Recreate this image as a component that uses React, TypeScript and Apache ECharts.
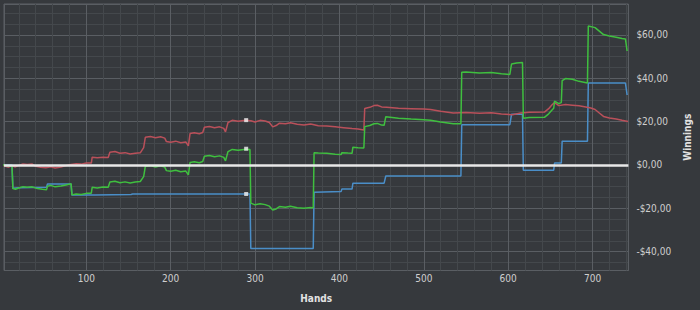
import React, { useEffect, useRef } from "react";
import * as echarts from "echarts";

// [hand, winnings]
const redLine: [number, number][] = [
  [1, 0], [4, -0.6], [8, -1.0], [12, -0.4], [16, -0.9], [20, -0.2], [25, 0.5], [30, 0.2], [36, 0.4],
  [40, -0.6], [46, -1.0], [52, -1.3], [58, -0.8], [63, -1.4], [70, -0.9], [76, -0.3], [82, 0.2],
  [88, 0.6], [94, 0.4], [100, 0.9], [106, 0.9], [107, 3.6], [113, 3.3], [120, 3.6], [126, 3.5],
  [128, 5.9], [134, 6.2], [140, 5.4], [146, 5.7], [152, 5.1], [158, 5.4], [164, 5.6], [168, 8.0],
  [170, 12.8], [176, 13.1], [182, 12.6], [188, 13.0], [193, 12.4], [195, 10.8], [200, 10.5],
  [206, 11.0], [212, 10.3], [218, 10.6], [221, 8.8], [223, 14.5], [228, 14.9], [234, 14.4],
  [238, 15.0], [240, 17.4], [246, 17.8], [252, 17.2], [258, 17.6], [263, 16.9], [265, 15.3],
  [268, 19.6], [273, 20.6], [280, 20.2], [289, 20.7], [295, 20.4], [300, 19.8], [306, 20.6],
  [312, 20.3], [317, 19.6], [321, 17.6], [325, 18.2], [329, 19.3], [336, 19.0], [342, 19.5],
  [350, 18.8], [358, 18.5], [366, 18.9], [375, 18.1], [385, 18.0], [395, 17.6], [405, 17.2],
  [415, 16.8], [422, 16.6], [429, 16.2], [430, 26.1], [436, 26.6], [441, 27.4], [445, 27.6],
  [450, 26.8], [456, 26.7], [470, 26.2], [485, 26.0], [500, 25.8], [508, 25.6], [520, 24.8],
  [535, 24.0], [550, 24.2], [566, 23.9], [580, 24.1], [592, 23.5], [605, 23.2], [615, 24.0],
  [625, 24.3], [643, 24.4], [648, 26.0], [652, 27.8], [655, 28.8], [660, 27.4], [668, 27.9],
  [676, 27.6], [684, 27.3], [692, 26.8], [698, 26.3], [703, 25.6], [708, 24.0], [713, 22.4],
  [720, 21.7], [728, 21.2], [735, 20.6], [742, 20.1],
];

const blueLine: [number, number][] = [
  [1, 0], [12, 0], [13, -10.7], [20, -10.5], [35, -10.4], [53, -10.3], [54, -8.8], [82, -8.8],
  [83, -13.9], [110, -13.8], [153, -13.6], [155, -13.4], [294, -13.4], [295, -38.5], [369, -38.5],
  [370, -12.6], [402, -12.2], [403, -11.1], [415, -11.1], [416, -8.4], [453, -8.4], [455, -5.1],
  [544, -5.1], [545, 18.6], [602, 18.6], [604, 23.4], [617, 23.4], [618, -2.4], [654, -2.4],
  [655, 0.9], [663, 0.9], [664, 11.0], [694, 11.0], [695, 37.8], [739, 37.8], [741, 32.3],
];

const greenLine: [number, number][] = [
  [1, 0], [8, -0.5], [12, -0.4], [13, -10.9], [16, -11.2], [20, -10.6], [25, -10.0], [30, -10.3],
  [36, -10.1], [42, -10.9], [48, -11.2], [53, -11.4], [54, -9.8], [58, -9.4], [63, -10.1],
  [70, -9.7], [76, -9.2], [82, -8.7], [83, -13.8], [88, -13.4], [94, -13.6], [100, -13.1],
  [106, -13.0], [107, -10.3], [113, -10.6], [120, -10.2], [126, -10.3], [128, -7.9], [134, -7.5],
  [140, -8.2], [146, -7.8], [152, -8.3], [158, -7.9], [164, -7.6], [168, -5.4], [170, -0.6],
  [176, -0.3], [182, -0.9], [188, -0.4], [193, -1.0], [195, -2.6], [200, -2.9], [206, -2.4],
  [212, -3.1], [218, -2.8], [221, -4.6], [223, 1.1], [228, 1.5], [234, 1.0], [238, 1.6],
  [240, 4.0], [246, 4.4], [252, 3.8], [258, 4.2], [263, 3.5], [265, 1.9], [268, 6.2], [273, 7.2],
  [280, 6.8], [289, 7.3], [294, 7.1], [295, -17.6], [300, -18.4], [306, -17.9], [312, -18.3],
  [317, -19.0], [321, -20.8], [325, -20.3], [329, -19.2], [336, -19.5], [342, -19.0],
  [350, -19.7], [358, -20.0], [366, -19.6], [369, -19.8], [370, 5.6], [375, 5.5], [385, 5.4],
  [395, 5.0], [402, 4.8], [403, 5.7], [410, 5.5], [415, 5.4], [416, 8.2], [422, 8.0], [429, 7.8],
  [430, 17.7], [436, 18.2], [441, 19.0], [445, 19.2], [450, 18.4], [453, 18.3], [455, 22.3],
  [470, 21.6], [485, 21.2], [500, 20.9], [508, 20.6], [520, 19.8], [535, 19.0], [544, 19.0],
  [545, 42.8], [550, 42.9], [566, 42.5], [580, 42.7], [592, 42.1], [602, 41.8], [604, 46.6],
  [610, 47.1], [617, 47.3], [618, 21.6], [625, 21.9], [643, 22.0], [648, 23.6], [652, 25.4],
  [654, 26.2], [655, 29.5], [660, 28.3], [663, 28.8], [664, 38.9], [668, 39.9], [676, 39.6],
  [684, 38.6], [694, 37.8], [695, 64.1], [703, 63.4], [708, 61.8], [713, 60.2], [720, 59.5],
  [728, 59.0], [735, 58.4], [739, 58.2], [741, 52.6],
];

const hoverPoints: [number, number][] = [
  [289.5, 20.7], [289.5, 7.5], [289.5, -13.4],
];

const xName = "Hands";
const yName = "Winnings";

const fmtMoney = (v: number) =>
  (v < 0 ? "-$" : "$") + Math.abs(v).toFixed(2).replace(".", ",");

export default function App() {
  const ref = useRef<HTMLDivElement>(null);
  useEffect(() => {
    document.body.style.margin = "0";
    document.body.style.background = "#36393d";
    const chart = echarts.init(ref.current!, undefined, { renderer: "svg" });
    const font = "'Liberation Sans Narrow', 'DejaVu Sans Condensed', Roboto, sans-serif";
    chart.setOption({
      animation: false,
      backgroundColor: "#36393d",
      grid: { left: 4, right: 62, top: 4, bottom: 39.5, show: true, borderColor: "#5d6166", borderWidth: 1, backgroundColor: "transparent" },
      xAxis: {
        type: "value",
        min: 2.5,
        max: 742.5,
        splitNumber: 7,
        name: xName,
        nameLocation: "middle",
        nameGap: 23,
        nameTextStyle: { color: "#e2e2e2", fontWeight: "bold", fontSize: 10, fontFamily: font },
        axisLine: { show: false },
        axisTick: { show: false },
        axisLabel: { color: "#cfcfcf", fontSize: 10, fontFamily: font, margin: 3, showMinLabel: false, showMaxLabel: false },
        splitLine: { show: true, lineStyle: { color: "#5a5e63", width: 1 } },
        minorTick: { show: false, splitNumber: 5 },
        minorSplitLine: { show: true, lineStyle: { color: "#44484c", width: 1 } },
      },
      yAxis: {
        type: "value",
        position: "right",
        min: -48.7,
        max: 74.3,
        splitNumber: 5,
        name: yName,
        nameLocation: "middle",
        nameRotate: 90,
        nameGap: 44,
        nameTextStyle: { color: "#e2e2e2", fontWeight: "bold", fontSize: 10, fontFamily: font },
        axisLine: { show: false },
        axisTick: { show: false },
        axisLabel: { color: "#cfcfcf", fontSize: 10, fontFamily: font, margin: 8, formatter: fmtMoney, showMinLabel: false, showMaxLabel: false },
        splitLine: { show: true, lineStyle: { color: "#5a5e63", width: 1 } },
        minorTick: { show: false, splitNumber: 4 },
        minorSplitLine: { show: true, lineStyle: { color: "#44484c", width: 1 } },
      },
      series: [
        {
          type: "line",
          data: blueLine,
          showSymbol: false,
          lineStyle: { color: "#4a8ec8", width: 1.5 },
          itemStyle: { color: "#4a8ec8" },
          z: 2,
          markLine: {
            silent: true,
            symbol: ["none", "none"],
            label: { show: false },
            lineStyle: { color: "#e8e8e8", width: 2.5, type: "solid" },
            data: [{ yAxis: 0 }],
            z: 10,
          },
        },
        {
          type: "line",
          data: redLine,
          showSymbol: false,
          lineStyle: { color: "#b9505a", width: 1.5 },
          itemStyle: { color: "#b9505a" },
          z: 3,
        },
        {
          type: "line",
          data: greenLine,
          showSymbol: false,
          lineStyle: { color: "#3fbf3f", width: 1.5 },
          itemStyle: { color: "#3fbf3f" },
          z: 4,
        },
        {
          type: "scatter",
          data: hoverPoints,
          symbol: "rect",
          symbolSize: 4,
          itemStyle: { color: "#f2f2f2" },
          z: 12,
        },
      ],
    });
    return () => chart.dispose();
  }, []);
  return <div ref={ref} style={{ width: 700, height: 310 }} />;
}
